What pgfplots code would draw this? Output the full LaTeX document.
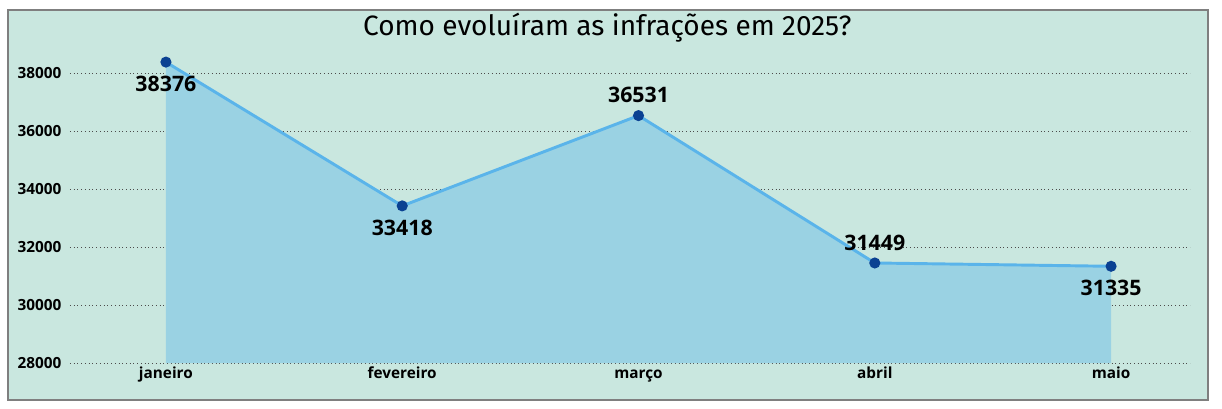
\documentclass[border=0pt]{standalone}
\usepackage{pgfplots}
\pgfplotsset{compat=1.18}
\usepackage{fontspec}
\setmainfont{Fira Sans}
\newfontfamily\labelfont{Open Sans}
\definecolor{bgmint}{HTML}{C9E7DF}
\definecolor{areablue}{HTML}{9AD2E3}
\definecolor{lineblue}{HTML}{5AB4EA}
\definecolor{dotblue}{HTML}{0A4192}
\definecolor{framegray}{HTML}{7F7F7F}
\begin{document}
\begin{tikzpicture}
    \path[use as bounding box, fill=white] (0,0) rectangle (916.5pt,306pt);
    \draw[framegray, line width=1pt, fill=bgmint] (6pt,6pt) rectangle (906pt,298.5pt);
    \node[font=\fontsize{21}{24}\selectfont] at (455.5pt,285pt) {Como evoluíram as infrações em 2025?};
    \begin{axis}[
        at={(52.5pt,33.75pt)}, anchor=south west,
        scale only axis,
        width=840pt, height=217.5pt,
        xmin=-0.406, xmax=4.334,
        ymin=28000, ymax=38000,
        clip=false,
        axis line style={draw=none},
        major tick length=0pt,
        xtick={0,1,2,3,4},
        xticklabels={janeiro,fevereiro,março,abril,maio},
        ytick={28000,30000,32000,34000,36000,38000},
        scaled y ticks=false,
        ymajorgrids,
        grid style={black!70, line width=0.6pt, dash pattern=on 0.6pt off 2.2pt},
        /pgf/number format/assume math mode=true,
        /pgf/number format/1000 sep={},
        ticklabel style={font=\labelfont\bfseries\fontsize{11.5}{13}\selectfont},
        yticklabel style={xshift=-3pt},
        xticklabel style={anchor=north, text height=1.6ex, text depth=0.4ex, yshift=0pt},
        labels/.style={draw=none, forget plot,
            nodes near coords={\pgfmathprintnumber[assume math mode=true,1000 sep={}]{\pgfplotspointmeta}},
            every node near coord/.append style={font=\labelfont\bfseries\fontsize{16}{18}\selectfont}},
    ]
    % area under the series
    \addplot[fill=areablue, draw=none, forget plot] coordinates {
        (0,38376) (1,33418) (2,36531) (3,31449) (4,31335) (4,28000) (0,28000)
    } -- cycle;
    % line with markers
    \addplot[lineblue, line width=2.2pt, mark=*, mark size=3pt,
        mark options={draw=dotblue, fill=dotblue}, forget plot] coordinates {
        (0,38376) (1,33418) (2,36531) (3,31449) (4,31335)
    };
    % labels below the points
    \addplot[labels, every node near coord/.append style={anchor=north, yshift=-7pt}]
        coordinates {(0,38376) (1,33418) (4,31335)};
    % labels above the points
    \addplot[labels, every node near coord/.append style={anchor=south, yshift=6pt}]
        coordinates {(2,36531) (3,31449)};
    \end{axis}
\end{tikzpicture}
\end{document}
